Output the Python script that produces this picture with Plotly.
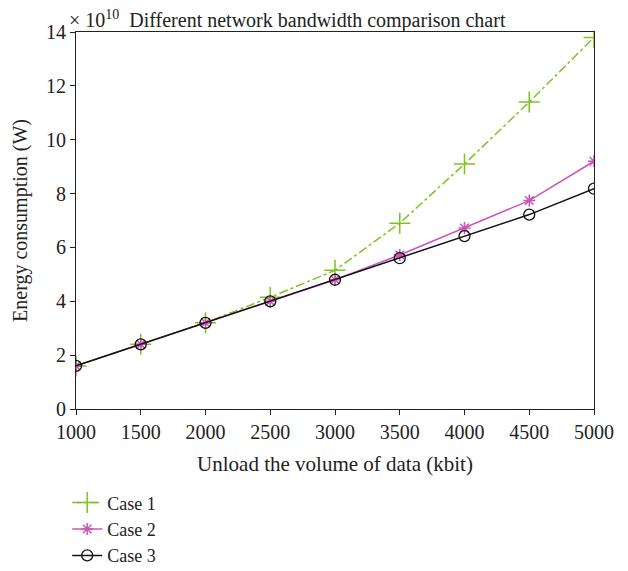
import plotly.graph_objects as go

x_vals = [1000, 1500, 2000, 2500, 3000, 3500, 4000, 4500, 5000]
case1 = [1.6, 2.4, 3.2, 4.15, 5.15, 6.9, 9.1, 11.4, 13.8]
case2 = [1.6, 2.4, 3.2, 4.0, 4.8, 5.72, 6.72, 7.74, 9.2]
case3 = [1.6, 2.4, 3.2, 4.0, 4.8, 5.6, 6.42, 7.22, 8.18]
y_ticks = [0, 2, 4, 6, 8, 10, 12, 14]
x_ticks = [1000, 1500, 2000, 2500, 3000, 3500, 4000, 4500, 5000]

FONT = "Liberation Serif"
fig = go.Figure()
fig.add_trace(go.Scatter(x=x_vals, y=case1, name="Case 1", mode="lines+markers",
                         line=dict(color="#7dc41f", width=1.5, dash="dashdot"),
                         marker=dict(symbol="cross-thin", size=15, line=dict(color="#7dc41f", width=1.5))))
fig.add_trace(go.Scatter(x=x_vals, y=case2, name="Case 2", mode="lines+markers",
                         line=dict(color="#cc55bb", width=1.5),
                         marker=dict(symbol="asterisk", size=10, line=dict(color="#cc55bb", width=1.5))))
fig.add_trace(go.Scatter(x=x_vals, y=case3, name="Case 3", mode="lines+markers",
                         line=dict(color="#111111", width=1.5),
                         marker=dict(symbol="circle-open", size=11, color="#111111", line=dict(width=1.3))))

fig.update_layout(
    width=620, height=563,
    margin=dict(l=68, r=34, t=24, b=162, autoexpand=False),
    paper_bgcolor="white", plot_bgcolor="white",
    font=dict(family=FONT, size=20, color="#222"),
    showlegend=True,
    legend=dict(x=-0.017, y=-0.2, xanchor="left", yanchor="top", orientation="v",
                font=dict(family=FONT, size=18), bgcolor="rgba(0,0,0,0)", tracegroupgap=0,
                itemwidth=30),
    xaxis=dict(range=[1000, 5000], tickvals=x_ticks, showline=True, linecolor="#222", linewidth=1.2,
               mirror=True, ticks="outside", ticklen=5, tickcolor="#222", showgrid=False, zeroline=False,
               tickfont=dict(size=20), automargin=False,
               title=dict(text="Unload the volume of data (kbit)", font=dict(size=21), standoff=14)),
    yaxis=dict(range=[0, 14], tickvals=y_ticks, showline=True, linecolor="#222", linewidth=1.2,
               mirror=True, ticks="outside", ticklen=5, tickcolor="#222", showgrid=False, zeroline=False,
               tickfont=dict(size=20), automargin=False,
               title=dict(text="Energy consumption (W)", font=dict(size=20), standoff=12)),
    annotations=[dict(text="× 10<sup>10</sup>  Different network bandwidth comparison chart",
                      xref="paper", yref="paper", x=-0.017, y=1.0, xanchor="left", yanchor="bottom",
                      yshift=-2, showarrow=False, font=dict(family=FONT, size=20))],
)
fig.write_html("out.html")
